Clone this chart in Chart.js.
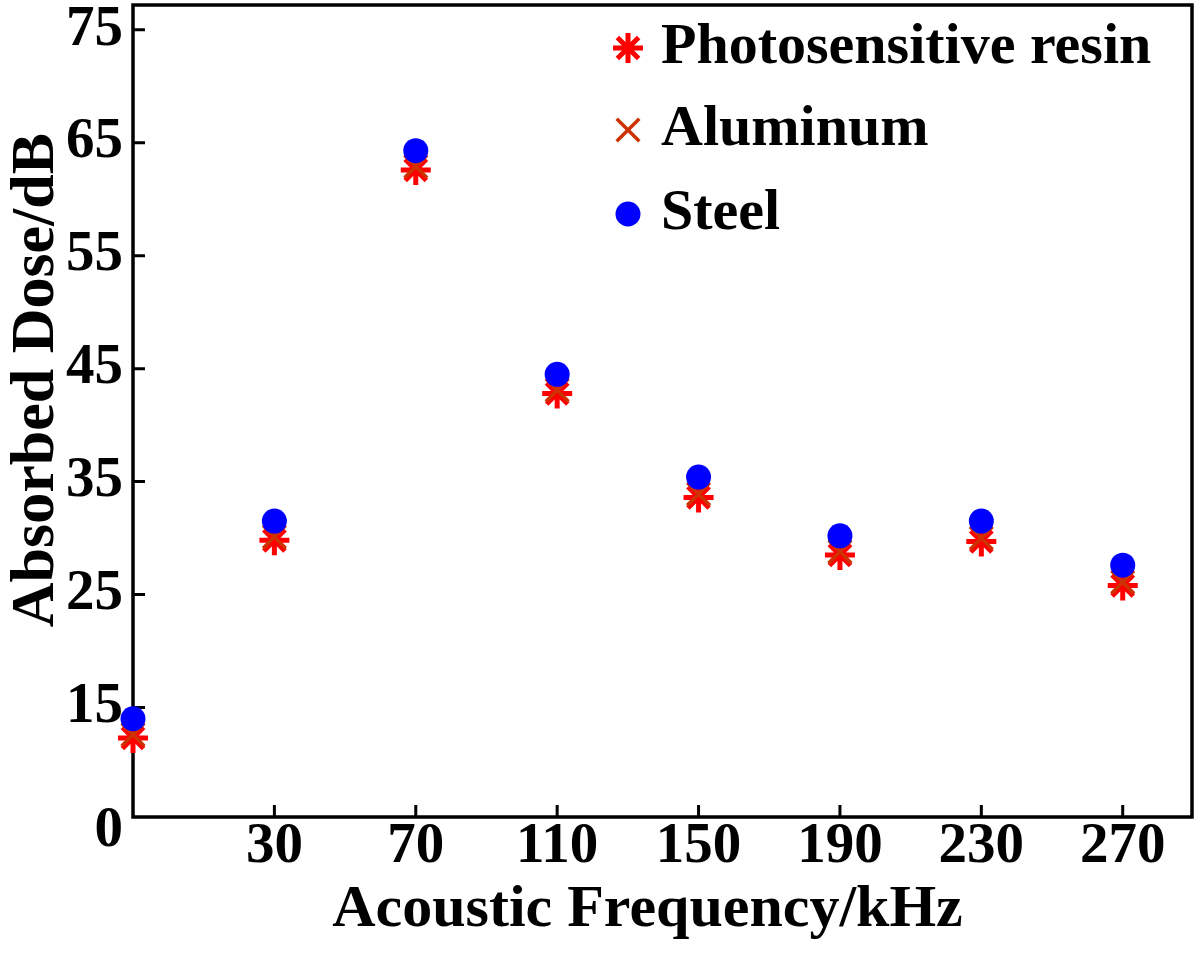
<!DOCTYPE html>
<html>
<head>
<meta charset="utf-8">
<script src="https://cdn.jsdelivr.net/npm/chart.js@4.4.0/dist/chart.umd.min.js"></script>
<style>
  html, body { margin: 0; padding: 0; background: #fff; }
</style>
</head>
<body>
<canvas id="dose-chart" width="1200" height="958"></canvas>
<script>
// x positions are the sample index; the first sample sits on the y axis with no label
const freqLabels = ['', '30', '70', '110', '150', '190', '230', '270'];

const resin    = [12.3, 29.8, 62.6, 42.8, 33.6, 28.5, 29.7, 25.8];
const aluminum = [12.6, 30.1, 62.9, 43.1, 33.9, 28.8, 30.0, 26.1];
const steel    = [14.0, 31.5, 64.3, 44.5, 35.4, 30.2, 31.5, 27.6];

const yTicks = [15, 25, 35, 45, 55, 65, 75];
const yOriginLabel = '0';
const yMin = 5.3;
const yMax = 77.2;

const serif = '"Liberation Serif", "Times New Roman", serif';
const toPoints = vals => vals.map((v, i) => ({ x: i, y: v }));

// box frame + inward tick marks
const frame = {
  id: 'frame',
  beforeDatasetsDraw(chart) {
    const { ctx, chartArea: a, scales } = chart;
    ctx.save();
    ctx.strokeStyle = '#000';
    ctx.lineWidth = 3.5;
    ctx.strokeRect(a.left, a.top, a.right - a.left, a.bottom - a.top);
    ctx.lineWidth = 3;
    ctx.beginPath();
    yTicks.forEach(v => {
      const py = scales.y.getPixelForValue(v);
      ctx.moveTo(a.left, py);
      ctx.lineTo(a.left + 12, py);
    });
    freqLabels.forEach((lab, i) => {
      if (!lab) return;
      const px = scales.x.getPixelForValue(i);
      ctx.moveTo(px, a.bottom);
      ctx.lineTo(px, a.bottom - 12);
    });
    ctx.stroke();
    ctx.restore();
  }
};

// legend drawn inside the plot, top right
const insideLegend = {
  id: 'insideLegend',
  afterDraw(chart) {
    const { ctx, chartArea: a } = chart;
    const mx = a.right - 564;
    const tx = a.right - 531;
    const rows = [a.top + 43, a.top + 125, a.top + 209];
    ctx.save();
    chart.data.datasets.forEach((ds, i) => {
      const y = rows[i];
      ctx.fillStyle = ds.pointBackgroundColor;
      ctx.strokeStyle = ds.pointBorderColor;
      ctx.lineWidth = ds.pointBorderWidth;
      Chart.helpers.drawPoint(ctx, {
        pointStyle: ds.pointStyle,
        radius: ds.pointRadius,
        borderWidth: ds.pointBorderWidth,
        rotation: 0
      }, mx, y);
      ctx.fillStyle = '#000';
      ctx.font = 'bold 58px ' + serif;
      ctx.textBaseline = 'middle';
      ctx.textAlign = 'left';
      ctx.fillText(ds.label, tx, y);
    });
    ctx.restore();
  }
};

const ctx = document.getElementById('dose-chart').getContext('2d');
new Chart(ctx, {
  type: 'scatter',
  data: {
    datasets: [
      {
        label: 'Photosensitive resin',
        data: toPoints(resin),
        pointStyle: 'star',
        pointRadius: 15,
        pointBorderWidth: 5,
        pointBorderColor: '#ff0000',
        pointBackgroundColor: '#ff0000',
        order: 2,
        clip: false
      },
      {
        label: 'Aluminum',
        data: toPoints(aluminum),
        pointStyle: 'crossRot',
        pointRadius: 16,
        pointBorderWidth: 3.5,
        pointBorderColor: '#cc3300',
        pointBackgroundColor: '#cc3300',
        order: 1,
        clip: false
      },
      {
        label: 'Steel',
        data: toPoints(steel),
        pointStyle: 'circle',
        pointRadius: 12.5,
        pointBorderWidth: 0,
        pointBorderColor: '#0000ff',
        pointBackgroundColor: '#0000ff',
        order: 0,
        clip: false
      }
    ]
  },
  options: {
    responsive: false,
    animation: false,
    layout: { autoPadding: false, padding: { top: 5, right: 8, left: 0, bottom: 0 } },
    plugins: {
      legend: { display: false },
      tooltip: { enabled: false }
    },
    scales: {
      x: {
        type: 'linear',
        min: 0,
        max: 7.49,
        grid: { display: false, drawTicks: false },
        border: { display: false },
        afterBuildTicks: s => { s.ticks = freqLabels.map((_, i) => ({ value: i })); },
        afterFit: s => {
          s.height = 141;
          s.paddingLeft = 0;
          s.paddingRight = 0;
        },
        ticks: {
          autoSkip: false,
          maxRotation: 0,
          padding: 2,
          color: '#000',
          font: { family: serif, size: 57, weight: 'bold', lineHeight: 1 },
          callback: v => freqLabels[v]
        },
        title: {
          display: true,
          text: 'Acoustic Frequency/kHz\u2002',
          color: '#000',
          font: { family: serif, size: 60, weight: 'bold' },
          padding: { top: 0, bottom: 12 }
        }
      },
      y: {
        min: yMin,
        max: yMax,
        grid: { display: false, drawTicks: false },
        border: { display: false },
        afterBuildTicks: s => { s.ticks = [yMin, ...yTicks].map(v => ({ value: v })); },
        afterFit: s => {
          s.width = 133;
          s.paddingTop = 0;
          s.paddingBottom = 0;
        },
        ticks: {
          padding: 10,
          color: '#000',
          font: { family: serif, size: 57, weight: 'bold', lineHeight: 0.5 },
          callback: v => v === yMin ? ['', yOriginLabel] : String(v)
        },
        title: {
          display: true,
          text: '\u2002\u2002Absorbed Dose/dB',
          color: '#000',
          font: { family: serif, size: 62, weight: 'bold' },
          padding: { top: 0, bottom: 0 }
        }
      }
    }
  },
  plugins: [frame, insideLegend]
});
</script>
</body>
</html>
